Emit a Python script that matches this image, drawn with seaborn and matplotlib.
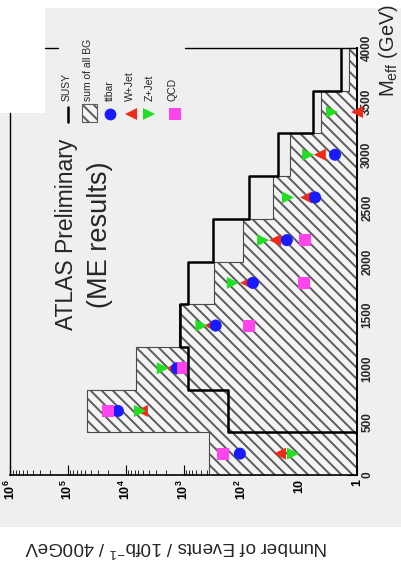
import numpy as np
import pandas as pd
import matplotlib
matplotlib.use("Agg")
import matplotlib.pyplot as plt
from matplotlib.patches import Rectangle
from matplotlib.lines import Line2D
from matplotlib.ticker import FixedLocator, FixedFormatter, LogLocator, MultipleLocator, NullFormatter
import seaborn as sns

sns.set_style("white")
plt.rcParams["font.family"] = ["Liberation Sans", "DejaVu Sans"]
plt.rcParams["mathtext.fontset"] = "custom"
plt.rcParams["mathtext.rm"] = "Liberation Sans"
plt.rcParams["mathtext.it"] = "Liberation Sans:italic"
plt.rcParams["mathtext.bf"] = "Liberation Sans:bold"
plt.rcParams["mathtext.default"] = "regular"
plt.rcParams["hatch.linewidth"] = 1.4

# ---- data: events per 400 GeV bin of M_eff, 10 fb^-1 ----
meff_edges = [0, 400, 800, 1200, 1600, 2000, 2400, 2800, 3200, 3600, 4000]
meff_centers = [200, 600, 1000, 1400, 1800, 2200, 2600, 3000, 3400, 3800]
bg_sum = [360, 46500, 6500, 1200, 295, 93, 28, 14.4, 4.2, 1.36]
susy = [0.5, 172, 850, 1150, 830, 314, 73, 23.6, 5.8, 1.9]  # first bin is below the axis floor
ttbar = [106, 13600, 1300, 278, 63, 16.3, 5.3, 2.4, np.nan, np.nan]
wjet = [21.5, 5250, 1590, 348, 83, 26, 7.6, 4.4, 1.0, np.nan]
zjet = [12.8, 5650, 2280, 490, 140, 42, 15.6, 7.0, 2.7, np.nan]
qcd = [208, 20400, 1020, 74, 8.3, 7.9, np.nan, np.nan, np.nan, np.nan]

process_names = ["W+Jet", "Z+Jet", "ttbar", "QCD"]
process_colors = {"ttbar": "#1a1aff", "W+Jet": "#ee2a18", "Z+Jet": "#22dd22", "QCD": "#ff44ee"}
process_markers = {"ttbar": "o", "W+Jet": "<", "Z+Jet": ">", "QCD": "s"}

log_ticks = [1, 10, 1e2, 1e3, 1e4, 1e5, 1e6]
log_tick_labels = ["1", "10", "$10^{2}$", "$10^{3}$", "$10^{4}$", "$10^{5}$", "$10^{6}$"]
meff_ticks = [0, 500, 1000, 1500, 2000, 2500, 3000, 3500, 4000]

PANEL = "#efefef"
HATCH_FACE = "#f4f4f4"
HATCH_LINE = "#5c5c5c"

W, H = 401, 566


def fx(px):
    return px / W


def fy(py):
    return 1 - py / H


fig = plt.figure(figsize=(W / 100, H / 100), dpi=100)
fig.patch.set_facecolor(PANEL)

# white margins: top strip, bottom strip and the upper-left corner
for (x0, y0, x1, y1) in [(0, 0, 401, 8), (0, 527, 401, 566), (0, 0, 45, 113)]:
    fig.add_artist(Rectangle((fx(x0), fy(y1)), fx(x1) - fx(x0), fy(y0) - fy(y1),
                             transform=fig.transFigure, facecolor="white",
                             edgecolor="none", zorder=-1))

ax = fig.add_axes([fx(10), fy(475), fx(357) - fx(10), fy(48) - fy(475)])
ax.set_facecolor("none")

edges = np.array(meff_edges, dtype=float)
bg_ext = np.append(bg_sum, bg_sum[-1])
susy_ext = np.append(susy, susy[-1])

# summed background, hatched
ax.fill_betweenx(edges, bg_ext, 1, step="post", facecolor=HATCH_FACE,
                 edgecolor=HATCH_LINE, hatch="\\\\\\", linewidth=0, zorder=1)
ax.plot(bg_ext, edges, drawstyle="steps-pre", color="#4a4a4a", lw=0.8, zorder=2)

# SUSY signal
ax.plot(susy_ext, edges, drawstyle="steps-pre", color="black", lw=1.8, zorder=4)

# individual background processes
series = {"ttbar": ttbar, "W+Jet": wjet, "Z+Jet": zjet, "QCD": qcd}
rows = []
for name in process_names:
    for c, v in zip(meff_centers, series[name]):
        rows.append({"meff": c, "events": v, "process": name})
df = pd.DataFrame(rows).dropna()
sns.scatterplot(data=df, x="events", y="meff", hue="process", style="process",
                palette=process_colors, markers=process_markers, s=75,
                linewidth=0, legend=False, ax=ax, zorder=3, clip_on=False)

ax.set_xscale("log")
ax.set_xlim(1e6, 1)
ax.set_ylim(0, 4000)
ax.set_xlabel("")
ax.set_ylabel("")

# event-count axis (along the bottom)
ax.xaxis.set_major_locator(FixedLocator(log_ticks))
ax.xaxis.set_major_formatter(FixedFormatter(log_tick_labels))
ax.xaxis.set_minor_locator(LogLocator(base=10, subs=range(2, 10), numticks=20))
ax.xaxis.set_minor_formatter(NullFormatter())
ax.tick_params(axis="x", which="major", direction="in", length=7, width=0.8,
               bottom=True, top=False, labelrotation=90, labelsize=9, pad=3, colors="black")
ax.tick_params(axis="x", which="minor", direction="in", length=3.5, width=0.7,
               bottom=True, top=False)

# M_eff axis (along the right)
ax.yaxis.tick_right()
ax.yaxis.set_major_locator(FixedLocator(meff_ticks))
ax.yaxis.set_minor_locator(MultipleLocator(100))
ax.tick_params(axis="y", which="major", direction="in", length=7, width=0.8,
               right=True, left=False, labelright=True, labelleft=False,
               labelrotation=90, labelsize=8.5, pad=3)
ax.tick_params(axis="y", which="minor", direction="in", length=3.5, width=0.7,
               right=True, left=False)
for lab in ax.get_yticklabels():
    lab.set_fontweight("bold")
    lab.set_va("center")
for lab in ax.get_xticklabels():
    lab.set_fontweight("bold")

for sp in ax.spines.values():
    sp.set_color("black")
ax.spines["right"].set_linewidth(1.4)
ax.spines["bottom"].set_linewidth(1.2)
# top and left frame are only partly drawn (the legend and the corner sit over them)
ax.spines["top"].set_visible(False)
ax.spines["left"].set_visible(False)
frame_segments = [((45, 48), (58, 48)), ((185, 48), (357, 48)), ((10, 113), (10, 475))]
for (xa, ya), (xb, yb) in frame_segments:
    fig.add_artist(Line2D([fx(xa), fx(xb)], [fy(ya), fy(yb)], color="black", lw=1.0,
                          transform=fig.transFigure, zorder=2))

# legend
fig.add_artist(Line2D([fx(68), fx(68)], [fy(107), fy(122)], color="black", lw=1.8,
                      transform=fig.transFigure, zorder=3))
fig.add_artist(Rectangle((fx(82), fy(122)), fx(97) - fx(82), fy(104) - fy(122),
                         transform=fig.transFigure, facecolor=HATCH_FACE, edgecolor=HATCH_LINE,
                         hatch="\\\\\\", lw=0.8, zorder=3))
legend_marker_x = {"ttbar": 110, "W+Jet": 131, "Z+Jet": 149, "QCD": 175}
for name, px in legend_marker_x.items():
    fig.add_artist(Line2D([fx(px)], [fy(114)], marker=process_markers[name], ms=8.5,
                          color=process_colors[name], ls="none", mew=0,
                          transform=fig.transFigure, zorder=3))
legend_labels = [("SUSY", 67), ("sum of all BG", 88), ("ttbar", 110),
                 ("W+Jet", 130), ("Z+Jet", 150), ("QCD", 172)]
for text, px in legend_labels:
    fig.text(fx(px), fy(101), text, rotation=90, ha="center", va="bottom",
             fontsize=7.5, zorder=3)

# annotations
fig.text(fx(66), fy(234), "ATLAS Preliminary", rotation=90, ha="center", va="center",
         fontsize=16.5, zorder=3)
fig.text(fx(100), fy(235), "(ME results)", rotation=90, ha="center", va="center",
         fontsize=19.5, zorder=3)

fig.text(fx(389), fy(97), "M$_{eff}$ (GeV)", rotation=90, ha="center", va="bottom",
         fontsize=14.5, zorder=3)
fig.text(fx(176), fy(547), "Number of Events / 10fb$^{-1}$ / 400GeV", rotation=180,
         ha="center", va="center", fontsize=13.5, zorder=3)

fig.savefig("out.png", dpi=100, facecolor=fig.get_facecolor())
